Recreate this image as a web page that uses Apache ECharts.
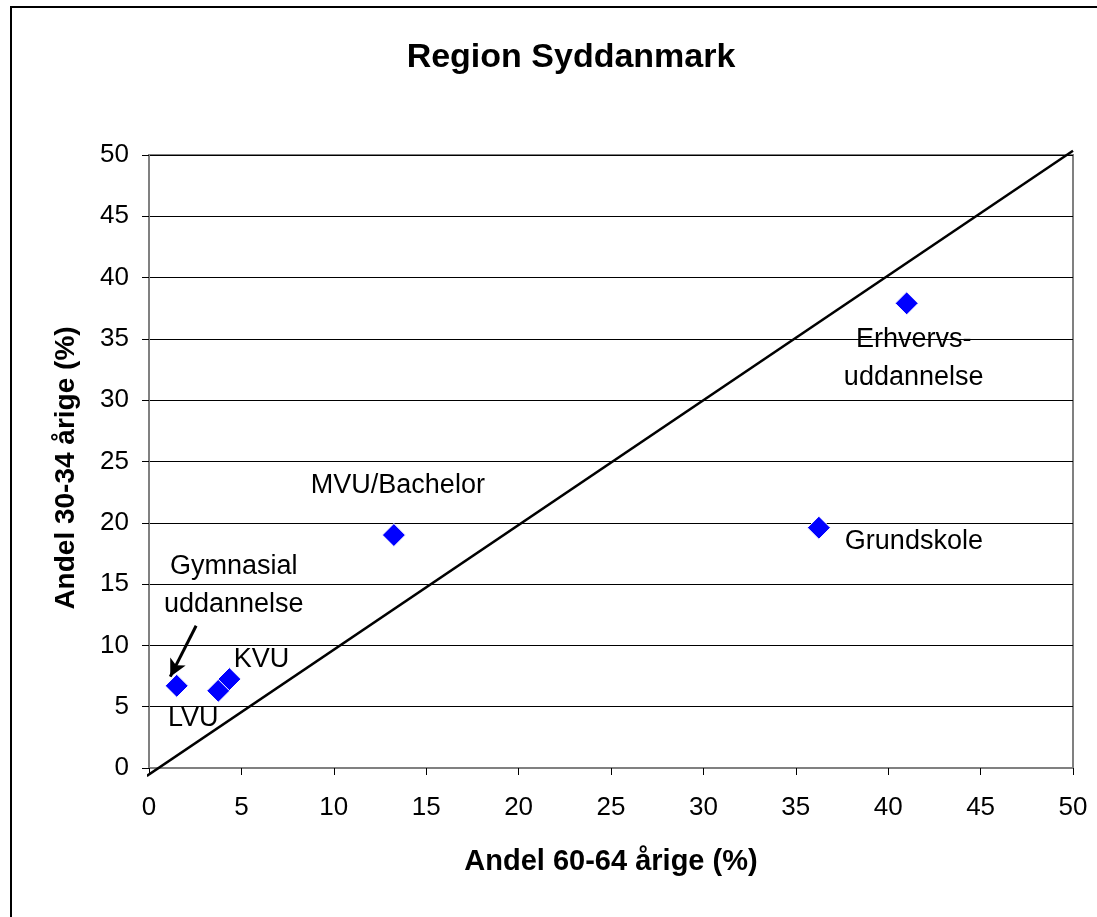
<!DOCTYPE html>
<html>
<head>
<meta charset="utf-8">
<script src="https://cdn.jsdelivr.net/npm/echarts@6/dist/echarts.min.js"></script>
<style>
  html, body { margin: 0; padding: 0; background: #fff; }
  #chart { width: 1097px; height: 917px; }
</style>
</head>
<body>
<div id="chart"></div>
<script>
// education groups: share among 60-64 year olds (x) vs 30-34 year olds (y)
const names = ['Gymnasial\nuddannelse', 'LVU', 'KVU', 'MVU/Bachelor', 'Grundskole', 'Erhvervs-\nuddannelse'];
const share6064 = [1.5, 3.75, 4.35, 13.25, 36.25, 41.0];
const share3034 = [6.7, 6.3, 7.25, 19.0, 19.6, 37.9];
const diagonal = [[-0.12, -0.65], [50, 50.35]];
const arrowFrom = [2.55, 11.6];
const arrowTo = [1.15, 7.45];
const xTicks = [0, 50, 5];
const yTicks = [0, 50, 5];

// label offsets relative to each diamond (px)
const labelOffsets = [[57, -100], [-25, 28], [32, -20], [4, -50], [95, 14], [7, 55]];

const font = 'Arial, "Liberation Sans", sans-serif';
const chart = echarts.init(document.getElementById('chart'));

const points = names.map((n, i) => ({ name: n, value: [share6064[i], share3034[i]] }));

chart.setOption({
  animation: false,
  backgroundColor: '#fff',
  title: {
    text: 'Region Syddanmark',
    left: 566,
    textAlign: 'center',
    top: 36,
    textStyle: { fontFamily: font, fontSize: 34, fontWeight: 'bold', color: '#000' }
  },
  graphic: [{
    type: 'rect',
    shape: { x: 11, y: 7, width: 1120, height: 950 },
    style: { fill: 'none', stroke: '#000', lineWidth: 2 },
    silent: true
  }, {
    type: 'text',
    x: 66, y: 468,
    rotation: Math.PI / 2,
    style: {
      text: 'Andel 30-34 årige (%)',
      font: 'bold 28px ' + font,
      fill: '#000',
      align: 'center',
      verticalAlign: 'middle'
    },
    silent: true
  }],
  grid: {
    left: 149, right: 24, top: 155, bottom: 149,
    show: true, borderColor: '#808080', borderWidth: 2
  },
  xAxis: {
    type: 'value',
    min: xTicks[0], max: xTicks[1], interval: xTicks[2],
    name: 'Andel 60-64 årige (%)',
    nameLocation: 'middle',
    nameGap: 79,
    nameTextStyle: { fontFamily: font, fontSize: 29, fontWeight: 'bold', color: '#000' },
    axisLine: { lineStyle: { color: '#808080', width: 2 } },
    axisTick: { show: true, length: 7, lineStyle: { color: '#000' } },
    axisLabel: { fontFamily: font, fontSize: 26, color: '#000', margin: 27 },
    splitLine: { show: false }
  },
  yAxis: {
    type: 'value',
    min: yTicks[0], max: yTicks[1], interval: yTicks[2],
    axisLine: { lineStyle: { color: '#808080', width: 2 } },
    axisTick: { show: true, length: 7, lineStyle: { color: '#000' } },
    axisLabel: { fontFamily: font, fontSize: 26, color: '#000', margin: 20 },
    splitLine: { lineStyle: { color: '#000', width: 1 } }
  },
  series: [
    {
      type: 'line',
      data: diagonal,
      clip: false,
      symbol: 'none',
      lineStyle: { color: '#000', width: 2.5 },
      silent: true,
      z: 3
    },
    {
      type: 'scatter',
      data: points,
      symbol: 'diamond',
      symbolSize: [23, 23],
      itemStyle: { color: '#0000ff', opacity: 1, borderColor: '#fff', borderWidth: 1 },
      label: {
        show: true,
        position: 'inside',
        formatter: p => p.name,
        fontFamily: font,
        fontSize: 27,
        lineHeight: 38,
        color: '#000',
        align: 'center',
        verticalAlign: 'middle'
      },
      labelLayout: p => ({
        dx: labelOffsets[p.dataIndex][0],
        dy: labelOffsets[p.dataIndex][1],
        hideOverlap: false
      }),
      markLine: {
        silent: true,
        symbol: ['none', 'arrow'],
        symbolSize: [13, 17],
        label: { show: false },
        lineStyle: { color: '#000', width: 3, type: 'solid' },
        data: [[{ coord: arrowFrom }, { coord: arrowTo }]]
      },
      z: 4
    }
  ]
});
</script>
</body>
</html>
